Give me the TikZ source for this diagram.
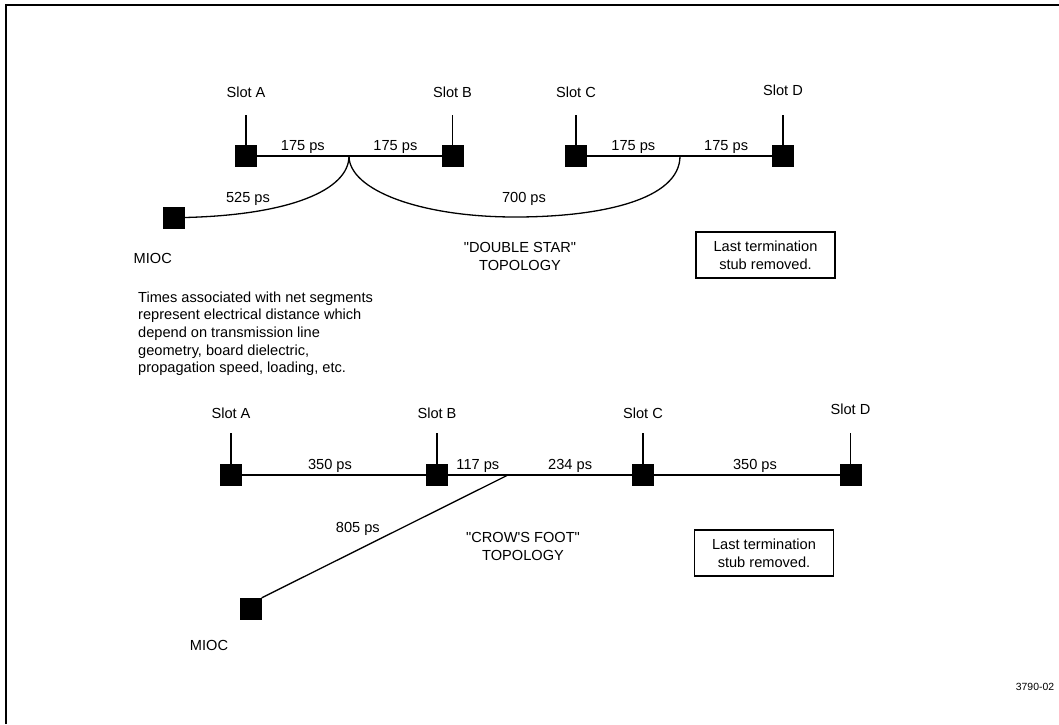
\documentclass[tikz,border=0pt]{standalone}
\usepackage{fontspec}
\setmainfont{Liberation Sans}[Ligatures=TeXOff]
\usetikzlibrary{positioning}

\begin{document}
\begin{tikzpicture}[x=1pt, y=-1pt,
    sq/.style={rectangle, fill=black, draw=black, inner sep=0pt, minimum size=21pt},
    lbl/.style={inner sep=0pt, font=\fontsize{14.6}{17.7}\selectfont},
    net/.style={line width=1.3pt},
    seg/.style={lbl, above=2pt},
    note/.style={lbl, draw, line width=1.3pt, minimum width=139pt,
        minimum height=46pt, align=center}]
\useasboundingbox (0,0) rectangle (1059,724);
\draw[line width=2pt] (6,724) -- (6,5) -- (1059,5);

% double star
\node[sq] (A1) at (246,156) {};
\node[sq] (B1) at (452.5,156) {};
\node[sq] (C1) at (576,156) {};
\node[sq] (D1) at (783,156) {};
\node[sq] (M1) at (174,217.5) {};
\coordinate (J1) at (349,156);
\coordinate (J2) at (680,156);
\node[lbl, above=47pt of A1] (sA1) {Slot A};
\node[lbl, above=47pt of B1] (sB1) {Slot B};
\node[lbl, above=47pt of C1] (sC1) {Slot C};
\node[lbl, above=49pt of D1] (sD1) {Slot D};
\foreach \s in {A1,B1,C1,D1}
    \draw[net] (\s.north) -- ++(0,-30);
\draw[net] (A1) -- node[seg] {175 ps} (J1) -- node[seg] {175 ps} (B1);
\draw[net] (C1) -- node[seg] {175 ps} (J2) -- node[seg] {175 ps} (D1);
\draw[net] (M1.east) .. controls (290,215) and (349,190) .. (J1);
\draw[net] (J1) .. controls (349,190) and (420,217) .. (515,217)
    .. controls (600,217) and (680,200) .. (J2);
\node[lbl, anchor=base] (t525) at (248,202.2) {525 ps};
\node[lbl, anchor=base] (t700) at (524,202.2) {700 ps};
\node[lbl, anchor=base] (mioc1) at (152.8,263.2) {MIOC};
\node[lbl, align=center] (topo1) at (520,256.5) {"DOUBLE STAR"\\TOPOLOGY};
\node[note] (stub1) at (765.5,255) {Last termination\\stub removed.};
\node[lbl, anchor=north west, align=left] (expl) at (138,291.4)
    {Times associated with net segments\\represent electrical distance which\\depend on transmission line\\geometry, board dielectric,\\propagation speed, loading, etc.};

% crow's foot
\node[sq] (A2) at (231,475) {};
\node[sq] (B2) at (437,475) {};
\node[sq] (C2) at (643,475) {};
\node[sq] (D2) at (850.5,475) {};
\node[sq] (M2) at (251,608.5) {};
\coordinate (J3) at (508,475);
\node[lbl, above=45pt of A2] (sA2) {Slot A};
\node[lbl, above=45pt of B2] (sB2) {Slot B};
\node[lbl, above=45pt of C2] (sC2) {Slot C};
\node[lbl, above=49pt of D2] (sD2) {Slot D};
\foreach \s in {A2,B2,C2,D2}
    \draw[net] (\s.north) -- ++(0,-31);
\draw[net] (A2) -- node[seg, pos=0.478] {350 ps} (B2);
\draw[net] (B2) -- node[seg] {117 ps} (J3) -- node[seg] {234 ps} (C2);
\draw[net] (C2) -- node[seg, pos=0.544] {350 ps} (D2);
\draw[net] (J3) -- (M2.north east);
\node[lbl, anchor=base] (t805) at (357.8,532) {805 ps};
\node[lbl, anchor=base] (mioc2) at (209,650.2) {MIOC};
\node[lbl, align=center] (topo2) at (523,546.5) {"CROW'S FOOT"\\TOPOLOGY};
\node[note] (stub2) at (764,553) {Last termination\\stub removed.};

\node[inner sep=0pt, font=\fontsize{10.4}{12}\selectfont] (fig) at (1035,686.7) {3790-02};
\end{tikzpicture}
\end{document}
